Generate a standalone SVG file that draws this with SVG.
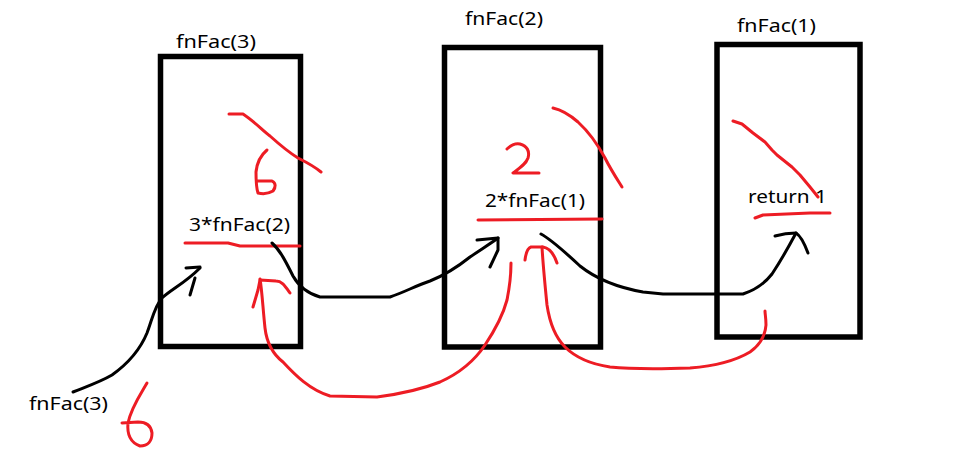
<svg xmlns="http://www.w3.org/2000/svg" width="962" height="455" viewBox="0 0 962 455">
  <style>
    .frame { fill: none; stroke: #000; stroke-width: 5.5; }
    .lbl { font-family: "Noto Sans", "DejaVu Sans", sans-serif; font-size: 18px; fill: #000; }
    .ink { fill: none; stroke: #000; stroke-width: 3; stroke-linecap: round; stroke-linejoin: round; }
    .red { fill: none; stroke: #ed1c24; stroke-width: 3; stroke-linecap: round; stroke-linejoin: round; }
  </style>
  <rect width="962" height="455" fill="#fff"/>

  <!-- call frame for fnFac(3) -->
  <g id="frame3">
    <rect class="frame" x="160.5" y="56.5" width="140" height="290"/>
    <text class="lbl" x="176" y="48" textLength="80" lengthAdjust="spacingAndGlyphs">fnFac(3)</text>
    <text class="lbl" x="189" y="231" textLength="101" lengthAdjust="spacingAndGlyphs">3*fnFac(2)</text>
    <path class="red" d="M229 114 L243 114 C255 122 262 130 270 136 C280 145 290 153 298 158 C308 163 315 167 321 172"/>
    <path class="red" d="M267 150 C261 155 257 162 256 172 C256 180 256 187 258 193 C262 194 268 194 273 191 C276 187 276 183 272 181 L257 181"/>
    <path class="red" d="M185 243 L228 243 L240 246 L300 246"/>
  </g>

  <!-- call frame for fnFac(2) -->
  <g id="frame2">
    <rect class="frame" x="444.5" y="47.5" width="156" height="299.5"/>
    <text class="lbl" x="465" y="25" textLength="78" lengthAdjust="spacingAndGlyphs">fnFac(2)</text>
    <text class="lbl" x="485" y="207" textLength="100" lengthAdjust="spacingAndGlyphs">2*fnFac(1)</text>
    <path class="red" d="M553 108 C562 110 570 115 578 122 C590 133 598 145 605 158 C611 170 617 179 622 187"/>
    <path class="red" d="M507 149 C511 145 515 143 520 144 C527 146 530 151 528 158 C526 164 520 168 513 173 L539 173"/>
    <path class="red" d="M478 220 L602 219"/>
  </g>

  <!-- call frame for fnFac(1) -->
  <g id="frame1">
    <rect class="frame" x="717" y="44.5" width="143" height="292.5"/>
    <text class="lbl" x="737" y="32" textLength="79" lengthAdjust="spacingAndGlyphs">fnFac(1)</text>
    <text class="lbl" x="748" y="203" textLength="79" lengthAdjust="spacingAndGlyphs">return 1</text>
    <path class="red" d="M733 121 L742 124 L753 133 L765 142 L772 150 L777 155 L792 167 L800 175 L810 187 L818 197"/>
    <path class="red" d="M755 218 L763 215 L810 213 L830 213"/>
  </g>

  <!-- initial call and its result -->
  <g id="caller">
    <text class="lbl" x="29" y="410" textLength="79" lengthAdjust="spacingAndGlyphs">fnFac(3)</text>
    <path class="red" d="M147 383 C140 395 131 408 128 423 C127 433 129 442 140 446 C148 446 152 441 152 433 C151 425 145 422 138 422 L122 423"/>
  </g>

  <!-- connectors -->
  <g id="connectors">
    <!-- calls (black) -->
    <path class="ink" d="M73 392 C88 386 100 382 112 375 C126 365 140 350 147 333 C152 320 155 305 162 298 C172 289 185 283 200 268"/>
    <path class="ink" d="M186 268 L200 267 M195 278 L190 295"/>
    <path class="ink" d="M272 243 C280 250 286 262 293 276 C298 285 306 293 320 297 L390 297 C405 292 415 286 430 281 C445 275 460 265 470 257 C480 250 490 244 498 238"/>
    <path class="ink" d="M477 240 L498 238 L498 250 L490 267"/>
    <path class="ink" d="M541 234 C552 240 565 252 580 266 C595 278 615 287 643 292 L663 294 L743 294 C755 290 765 283 772 274 C780 262 788 248 796 233"/>
    <path class="ink" d="M775 236 C782 234 790 233 796 233 C801 236 805 245 808 253"/>
    <!-- returns (red) -->
    <path class="red" d="M290 293 C285 286 282 281 276 281 L260 280 L258 290 L253 307"/>
    <path class="red" d="M260 279 C262 290 263 310 265 328 C267 345 274 355 283 362 C295 375 310 390 330 396 L377 397 C400 394 425 388 440 382 C460 373 475 360 485 345 C495 330 503 315 507 300 C510 285 511 272 511 263"/>
    <path class="red" d="M525 260 C526 252 528 248 531 247 L543 247 C549 248 554 254 557 263"/>
    <path class="red" d="M542 247 C543 265 545 285 547 305 C550 325 556 338 565 347 C575 357 590 364 610 367 C630 369 660 369 690 368 C715 366 735 361 750 352 C760 345 765 337 766 325 C766 318 765 314 765 311"/>
  </g>
</svg>
